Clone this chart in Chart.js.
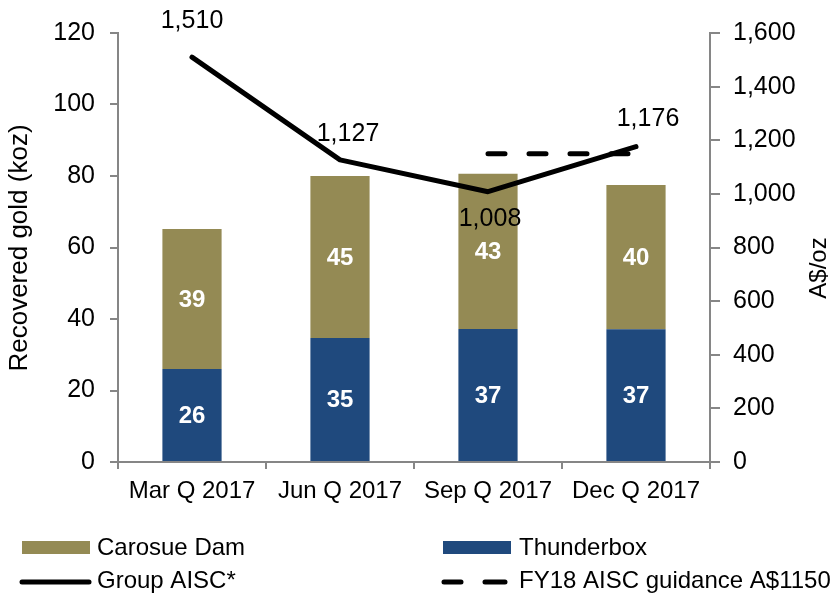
<!DOCTYPE html>
<html>
<head>
<meta charset="utf-8">
<script src="https://cdn.jsdelivr.net/npm/chart.js@4/dist/chart.umd.min.js"></script>
<style>
  html, body { margin: 0; padding: 0; background: #fff; }
  #wrap { position: relative; width: 830px; height: 594px; }
</style>
</head>
<body>
<div id="wrap"><canvas id="c" width="830" height="594"></canvas></div>
<script>
// ---- data ----
const categories = ['Mar Q 2017', 'Jun Q 2017', 'Sep Q 2017', 'Dec Q 2017'];
const thunderbox = [26, 34.7, 37.2, 37.1];
const carosueDam = [39.2, 45.3, 43.4, 40.4];
const groupAISC = [1510, 1127, 1008, 1176];
const guidanceAISC = [null, null, 1150, 1150];
const leftTicks = [0, 20, 40, 60, 80, 100, 120];
const rightTicks = [0, 200, 400, 600, 800, 1000, 1200, 1400, 1600];

const OLIVE = '#948A54';
const NAVY = '#1F497D';
const AXIS = '#868686';
const FONT = "'Liberation Sans', Arial, sans-serif";

Chart.defaults.font.family = FONT;
Chart.defaults.font.size = 24;
Chart.defaults.color = '#000';

const fmt = v => Number(v).toLocaleString('en-US');

const customDraw = {
  id: 'customDraw',
  afterDatasetsDraw(chart, args, opts) {
    const ctx = chart.ctx;
    ctx.save();
    // bar value labels
    ctx.fillStyle = '#fff';
    ctx.font = 'bold 24px ' + FONT;
    ctx.textAlign = 'center';
    ctx.textBaseline = 'middle';
    [0, 1].forEach(di => {
      const meta = chart.getDatasetMeta(di);
      const ds = chart.data.datasets[di];
      meta.data.forEach((el, i) => {
        const v = ds.data[i];
        if (v == null) return;
        ctx.fillText(String(Math.round(v)), el.x, (el.y + el.base) / 2 + 1);
      });
    });
    // line value labels
    ctx.fillStyle = '#000';
    ctx.font = '25px ' + FONT;
    const lm = chart.getDatasetMeta(2);
    lm.data.forEach((el, i) => {
      const off = opts.lineLabelOffsets[i];
      ctx.fillText(fmt(chart.data.datasets[2].data[i]), el.x + off[0], el.y + off[1] + 1);
    });
    ctx.restore();
  },
  afterDraw(chart, args, opts) {
    const ctx = chart.ctx;
    ctx.save();
    // axis titles
    ctx.fillStyle = '#000';
    ctx.textAlign = 'center';
    ctx.textBaseline = 'middle';
    ctx.save();
    ctx.font = '26px ' + FONT;
    ctx.translate(opts.leftTitlePos[0], opts.leftTitlePos[1]);
    ctx.rotate(-Math.PI / 2);
    ctx.fillText('Recovered gold (koz)', 0, 0);
    ctx.restore();
    ctx.save();
    ctx.font = '24px ' + FONT;
    ctx.translate(opts.rightTitlePos[0], opts.rightTitlePos[1]);
    ctx.rotate(-Math.PI / 2);
    ctx.fillText('A$/oz', 0, 0);
    ctx.restore();

    // legend
    ctx.font = '24px ' + FONT;
    const ds = chart.data.datasets;
    ctx.textAlign = 'left';
    ctx.textBaseline = 'alphabetic';
    // Carosue Dam
    ctx.fillStyle = ds[1].backgroundColor;
    ctx.fillRect(22, 541, 68, 13);
    ctx.fillStyle = '#000';
    ctx.fillText(ds[1].label, 97, 555);
    // Thunderbox
    ctx.fillStyle = ds[0].backgroundColor;
    ctx.fillRect(443, 541, 68, 13);
    ctx.fillStyle = '#000';
    ctx.fillText(ds[0].label, 519, 555);
    // Group AISC
    ctx.strokeStyle = '#000';
    ctx.lineWidth = 5;
    ctx.lineCap = 'round';
    ctx.beginPath();
    ctx.moveTo(22, 582); ctx.lineTo(89, 582);
    ctx.stroke();
    ctx.fillText(ds[2].label, 97, 588);
    // guidance
    ctx.beginPath();
    ctx.moveTo(444, 582); ctx.lineTo(461, 582);
    ctx.moveTo(485, 582); ctx.lineTo(505, 582);
    ctx.stroke();
    ctx.fillText(ds[3].label, 519, 588);
    ctx.restore();
  }
};

new Chart(document.getElementById('c'), {
  type: 'bar',
  data: {
    labels: categories,
    datasets: [
      { label: 'Thunderbox', data: thunderbox, backgroundColor: NAVY, stack: 's', yAxisID: 'y', order: 2 },
      { label: 'Carosue Dam', data: carosueDam, backgroundColor: OLIVE, stack: 's', yAxisID: 'y', order: 2 },
      { type: 'line', label: 'Group AISC*', data: groupAISC, yAxisID: 'y1', borderColor: '#000', borderWidth: 5,
        pointRadius: 0, tension: 0, borderCapStyle: 'round', borderJoinStyle: 'round', order: 0 },
      { type: 'line', label: 'FY18 AISC guidance A$1150', data: guidanceAISC, yAxisID: 'y1', borderColor: '#000', borderWidth: 5,
        borderDash: [17, 24], borderCapStyle: 'round', pointRadius: 0, tension: 0, spanGaps: false, order: 1 }
    ]
  },
  options: {
    responsive: false,
    devicePixelRatio: 1,
    animation: false,
    layout: { padding: { top: 33, left: 0, right: 0, bottom: 0 } },
    datasets: { bar: { categoryPercentage: 1, barPercentage: 0.4 } },
    plugins: {
      legend: { display: false },
      tooltip: { enabled: false },
      customDraw: {
        lineLabelOffsets: [[0, -37], [8, -27], [2, 26], [12, -29]],
        leftTitlePos: [20, 248],
        rightTitlePos: [819, 268]
      }
    },
    scales: {
      x: {
        stacked: true,
        grid: { display: true, drawOnChartArea: false, drawTicks: true, tickLength: 7, color: AXIS, lineWidth: 2, offset: true },
        border: { display: true, color: AXIS, width: 2 },
        ticks: { padding: 8, color: '#000', font: { size: 24 }, maxRotation: 0 },
        afterFit: s => { s.height = 132; }
      },
      y: {
        stacked: true,
        position: 'left',
        min: 0, max: 120,
        afterBuildTicks: s => { s.ticks = leftTicks.map(v => ({ value: v })); },
        grid: { display: true, drawOnChartArea: false, drawTicks: true, tickLength: 8, color: AXIS, lineWidth: 2 },
        border: { display: true, color: AXIS, width: 2 },
        ticks: { padding: 15, color: '#000', font: { size: 25 } },
        afterFit: s => { s.width = 118; }
      },
      y1: {
        position: 'right',
        min: 0, max: 1600,
        afterBuildTicks: s => { s.ticks = rightTicks.map(v => ({ value: v })); },
        grid: { display: true, drawOnChartArea: false, drawTicks: true, tickLength: 10, color: AXIS, lineWidth: 2 },
        border: { display: true, color: AXIS, width: 2 },
        ticks: { padding: 13, color: '#000', font: { size: 25 }, callback: v => fmt(v) },
        afterFit: s => { s.width = 120; }
      }
    }
  },
  plugins: [customDraw]
});
</script>
</body>
</html>
